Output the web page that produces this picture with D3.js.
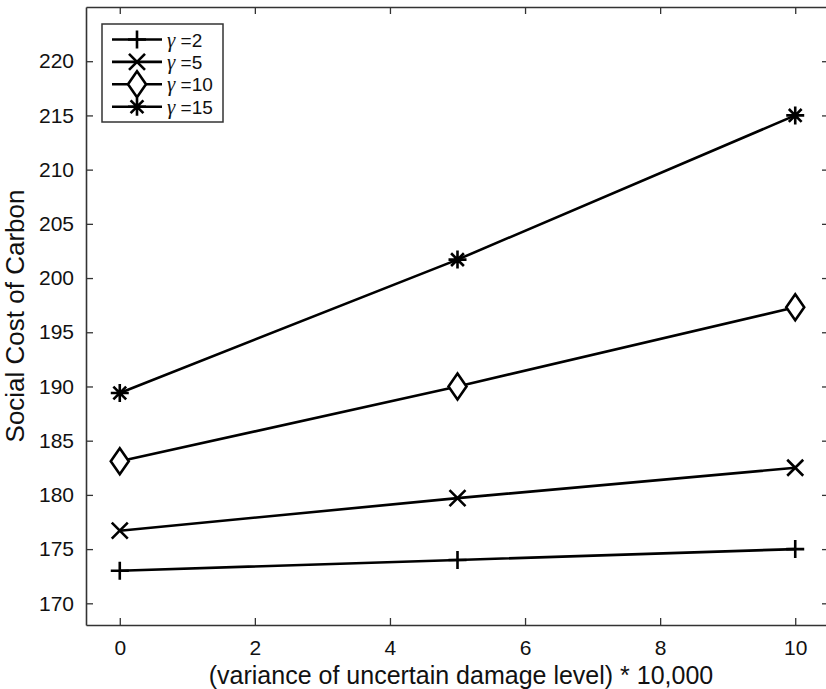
<!DOCTYPE html>
<html>
<head>
<meta charset="utf-8">
<script src="https://cdn.jsdelivr.net/npm/d3@7"></script>
<style>
  body { margin: 0; background: #fff; }
  text { font-family: "Liberation Sans", Arial, sans-serif; fill: #111; }
</style>
</head>
<body>
<div id="graph"></div>
<script>
// ------DATA------
const xValues = [0, 5, 10]
const gammaLabels = ["2", "5", "10", "15"]
const markerTypes = ["plus", "cross", "diamond", "star"]
const scc2 = [173.0, 174.0, 175.0]
const scc5 = [176.7, 179.7, 182.5]
const scc10 = [183.1, 190.0, 197.3]
const scc15 = [189.4, 201.7, 215.0]
const xTicks = [0, 2, 4, 6, 8, 10]
const yTicks = [170, 175, 180, 185, 190, 195, 200, 205, 210, 215, 220]

const seriesValues = [scc2, scc5, scc10, scc15]

// ------SIZES------
const width = 826, height = 689
const margin = { top: 7, right: -3, bottom: 64, left: 86 }
const gWidth = width - margin.left - margin.right
const gHeight = height - margin.top - margin.bottom

const svg = d3.select('#graph')
  .append("svg")
    .attr("width", width)
    .attr("height", height)

const graph = svg.append('g').attr("transform", `translate(${margin.left}, ${margin.top})`)

const xScale = d3.scaleLinear().domain([-0.5, 10.5]).range([0, gWidth])
const yScale = d3.scaleLinear().domain([168, 225]).range([gHeight, 0])

// ticks pointing inwards on all four sides
const tickLen = 7
graph.append('g').attr("class", "xAxis")
  .attr("transform", `translate(0, ${gHeight})`)
  .call(d3.axisBottom(xScale).tickValues(xTicks).tickSizeInner(-tickLen).tickSizeOuter(0).tickPadding(15))
graph.append('g').attr("class", "xAxisTop")
  .call(d3.axisTop(xScale).tickValues(xTicks).tickSizeInner(-tickLen).tickSizeOuter(0).tickFormat(""))
graph.append('g').attr("class", "yAxis")
  .call(d3.axisLeft(yScale).tickValues(yTicks).tickSizeInner(-tickLen).tickSizeOuter(0).tickPadding(12))
graph.append('g').attr("class", "yAxisRight")
  .attr("transform", `translate(${gWidth}, 0)`)
  .call(d3.axisRight(yScale).tickValues(yTicks).tickSizeInner(-tickLen).tickSizeOuter(0).tickFormat(""))

graph.selectAll(".domain").attr("stroke", "#333").attr("stroke-width", 1.6)
graph.selectAll(".tick line").attr("stroke", "#333").attr("stroke-width", 1.3)
graph.selectAll(".tick text").style("font-size", "21px").attr("fill", "#111")

// axis labels
svg.append("text")
  .attr("transform", `translate(24, 316) rotate(-90)`)
  .style("text-anchor", "middle")
  .style("font-size", "26px")
  .text("Social Cost of Carbon")

svg.append("text")
  .attr("x", 461)
  .attr("y", 684)
  .style("text-anchor", "middle")
  .style("font-size", "25px")
  .text("(variance of uncertain damage level) * 10,000")

// marker shapes (MATLAB style)
function markerPath(type) {
  const s = 9
  if (type === "plus") return `M${-s},0H${s}M0,${-s}V${s}`
  if (type === "cross") return `M${-8},${-8}L8,8M${-8},8L8,${-8}`
  if (type === "diamond") return `M0,${-13}L9,0L0,13L${-9},0Z`
  const d = 6.4
  return `M${-s},0H${s}M0,${-s}V${s}M${-d},${-d}L${d},${d}M${-d},${d}L${d},${-d}`
}

const line = d3.line()
  .x((d, i) => xScale(xValues[i]))
  .y(d => yScale(d))

seriesValues.forEach((vals, k) => {
  graph.append("path")
    .datum(vals)
    .attr("fill", "none")
    .attr("stroke", "#000")
    .attr("stroke-width", 2.6)
    .attr("d", line)

  graph.selectAll(".m" + k)
    .data(vals)
    .enter()
    .append("path")
      .attr("class", "m" + k)
      .attr("transform", (d, i) => `translate(${xScale(xValues[i])}, ${yScale(d)})`)
      .attr("d", markerPath(markerTypes[k]))
      .attr("fill", markerTypes[k] === "diamond" ? "#fff" : "none")
      .attr("stroke", "#000")
      .attr("stroke-width", 2.6)
})

// ------LEGEND------
const legend = svg.append("g").attr("transform", "translate(102, 24)")
legend.append("rect")
  .attr("width", 121)
  .attr("height", 98)
  .attr("fill", "#fff")
  .attr("stroke", "#333")
  .attr("stroke-width", 1.5)

gammaLabels.forEach((g, k) => {
  const y = 15.5 + k * 22.4
  const row = legend.append("g").attr("transform", `translate(0, ${y})`)
  row.append("line")
    .attr("x1", 10).attr("x2", 60)
    .attr("stroke", "#000").attr("stroke-width", 2.6)
  row.append("path")
    .attr("transform", "translate(35, 0)")
    .attr("d", markerPath(markerTypes[k]))
    .attr("fill", markerTypes[k] === "diamond" ? "#fff" : "none")
    .attr("stroke", "#000")
    .attr("stroke-width", 2.6)
  const t = row.append("text")
    .attr("x", 65)
    .attr("y", 7)
    .style("font-size", "19px")
  t.append("tspan").style("font-family", "'Liberation Serif', serif").style("font-style", "italic").style("font-size", "21px").text("γ")
  t.append("tspan").text(" =" + g)
})
</script>
</body>
</html>
